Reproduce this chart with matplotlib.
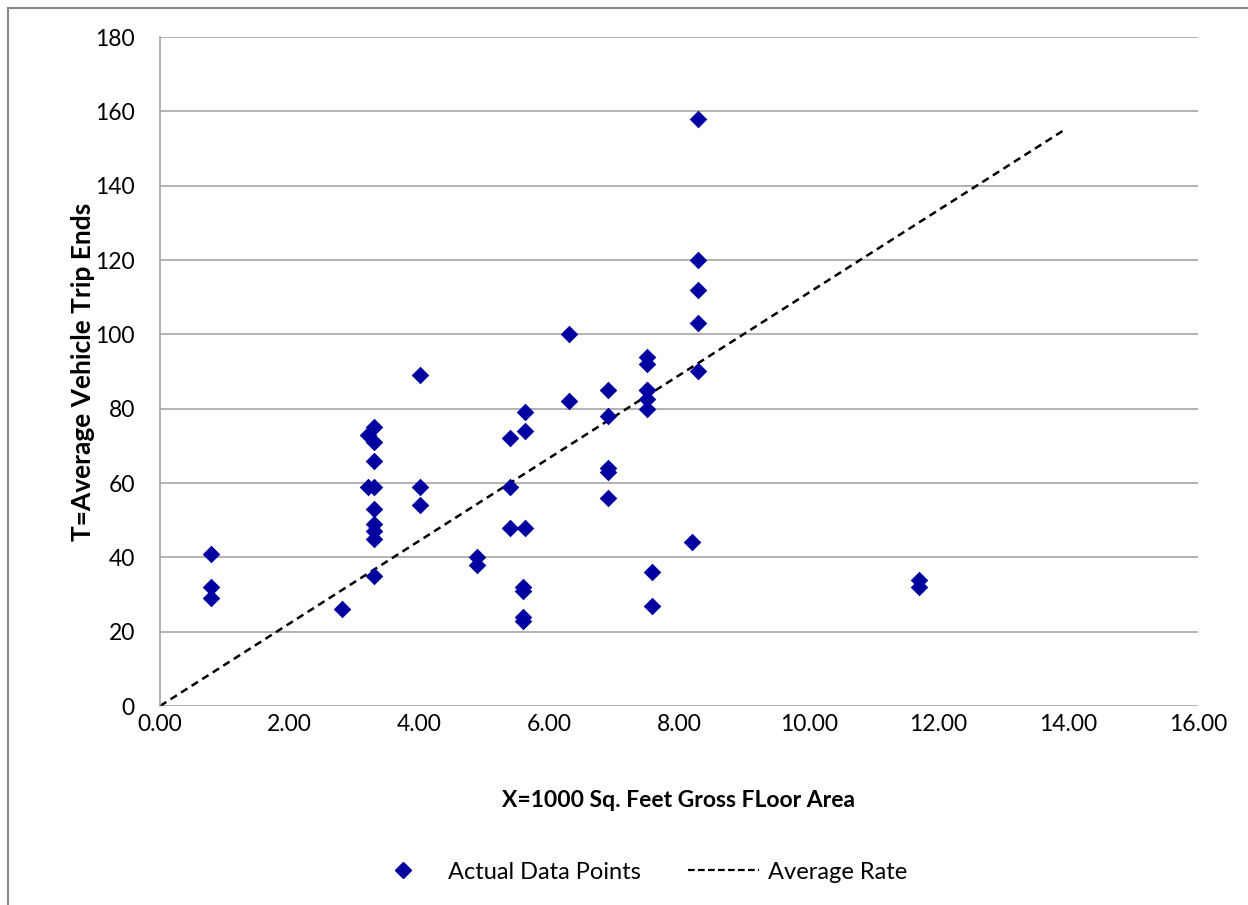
import numpy as np
import matplotlib.pyplot as plt
from matplotlib.patches import Rectangle
from matplotlib.lines import Line2D

plt.rcParams['font.family'] = ['Lato', 'DejaVu Sans']

# survey sites: floor area (1000 sq ft) and average vehicle trip ends
area = [0.78, 0.78, 0.78,
        2.8,
        3.2, 3.3, 3.3, 3.3, 3.2, 3.3, 3.3, 3.3, 3.3, 3.3, 3.3,
        4.0, 4.0, 4.0,
        4.88, 4.88,
        5.4, 5.4, 5.4,
        5.63, 5.63, 5.63, 5.6, 5.6, 5.6, 5.6,
        6.3, 6.3,
        6.9, 6.9, 6.9, 6.9, 6.9,
        7.5, 7.5, 7.5, 7.5, 7.5, 7.5,
        7.58, 7.58,
        8.2,
        8.3, 8.3, 8.3, 8.3, 8.3,
        11.7, 11.7]
trips = [41, 32, 29,
         26,
         73, 75, 71, 66, 59, 59, 53, 49, 47, 45, 35,
         89, 59, 54,
         40, 38,
         72, 59, 48,
         79, 74, 48, 32, 31, 24, 23,
         100, 82,
         85, 78, 64, 63, 56,
         94, 92, 85, 82.5, 80, 85,
         36, 27,
         44,
         158, 120, 112, 103, 90,
         34, 32]

avg_rate = 11.12
rate_x = np.array([0, 13.92])

fig = plt.figure(figsize=(12.48, 9.05), dpi=100)
fig.patches.append(Rectangle((8/1248, -0.1), 1.2, (905-8)/905 + 0.1,
                             transform=fig.transFigure, fill=False,
                             edgecolor='#888888', linewidth=1.5))
ax = fig.add_axes([160/1248, 1 - 706/905, 1038/1248, 669/905])

ax.scatter(area, trips, marker='D', s=80, color='#0000A0', zorder=3,
           linewidths=0)
ax.plot(rate_x, avg_rate*rate_x, color='black', linestyle=(0, (3, 2)),
        linewidth=1.8, zorder=2)

ax.set_xlim(0, 16)
ax.set_ylim(0, 180)
ax.set_xticks(np.arange(0, 17, 2))
ax.set_xticklabels([f'{v:.2f}' for v in np.arange(0, 17, 2)])
ax.set_yticks(np.arange(0, 181, 20))
ax.grid(axis='y', color='#A6A6A6', linewidth=1.2)
ax.set_axisbelow(True)
for s in ['top', 'right', 'bottom']:
    ax.spines[s].set_visible(False)
ax.spines['left'].set_color('#A6A6A6')
ax.spines['left'].set_linewidth(1.2)
ax.tick_params(length=0, labelsize=16.5, pad=6)
ax.tick_params(axis='y', pad=18)

ax.set_xlabel('X=1000 Sq. Feet Gross FLoor Area', fontsize=16.5,
              fontweight='bold', labelpad=39)
ax.set_ylabel('T=Average Vehicle Trip Ends', fontsize=19,
              fontweight='bold', labelpad=0)

handles = [Line2D([], [], marker='D', linestyle='none', color='#0000A0',
                  markersize=8),
           Line2D([], [], color='black', linestyle=(0, (3, 1.5)), linewidth=1.6)]
fig.legend(handles, ['Actual Data Points', 'Average Rate'], loc='center',
           bbox_to_anchor=(0.511, 1 - 872/905), ncol=2, frameon=False,
           fontsize=17, handlelength=3.0, handletextpad=0.4,
           columnspacing=2.0)

plt.savefig('out.png', dpi=100)
plt.close()
